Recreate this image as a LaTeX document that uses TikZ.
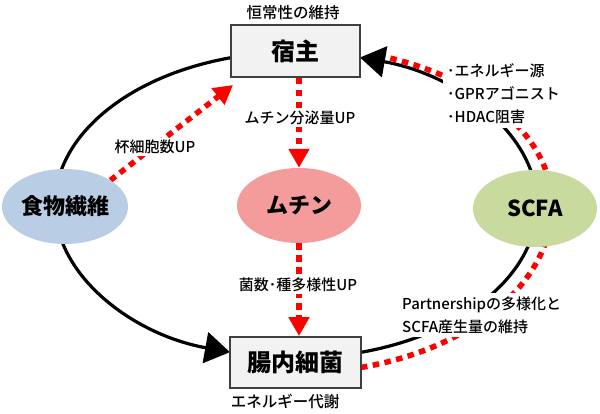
\documentclass[tikz,border=0pt]{standalone}
\usepackage{fontspec}
\setmainfont{Noto Sans CJK JP}
\newfontfamily\jpmed{Noto Sans CJK JP}[UprightFont={* Medium}]
\usetikzlibrary{arrows.meta,shapes.geometric,calc}
\definecolor{fibercol}{HTML}{B9CDE5}
\definecolor{mucincol}{HTML}{F49C9C}
\definecolor{scfacol}{HTML}{C9DA9E}
\definecolor{boxfill}{HTML}{F2F2F2}
\definecolor{boxline}{HTML}{3F3F3F}
\definecolor{dotred}{HTML}{FF0000}
\pgfdeclarelayer{back}
\pgfdeclarelayer{lines}
\pgfsetlayers{back,lines,main}
\begin{document}
\begin{tikzpicture}[x=1pt,y=1pt,
 hostbox/.style={draw=boxline, line width=1.8pt, fill=boxfill, minimum width=129pt, minimum height=52pt, font=\fontsize{24}{24}\selectfont\bfseries, inner sep=0pt},
 blob/.style={ellipse, draw=none, inner sep=0pt, font=\fontsize{22}{22}\selectfont\bfseries},
 cyclearc/.style={line width=3.2pt, black, -{Triangle[length=25pt,width=31pt]}},
 reddots/.style={line width=5.5pt, dotred, dash pattern=on 6.5pt off 5.5pt},
 redarrow/.style={reddots, -{Triangle[length=19pt,width=20pt]}},
 lbl/.style={fill=white, inner sep=2pt, font=\jpmed\fontsize{15}{23}\selectfont},
 plainlbl/.style={inner sep=1pt, font=\jpmed\fontsize{15.5}{15.5}\selectfont},
]
\begin{pgfonlayer}{back}
\fill[white] (0,0) rectangle (600,413);
\end{pgfonlayer}
\useasboundingbox (0,0) rectangle (600,413);

\node[hostbox] (host) at (295.5,362) {宿主};
\node[hostbox, minimum width=131pt, minimum height=51pt] (bac) at (295.5,50.5) {腸内細菌};
\node[blob, fill=fibercol, minimum width=126pt, minimum height=75pt] (fiber) at (65,206.5) {食物繊維};
\node[blob, fill=mucincol, minimum width=124pt, minimum height=75pt] (mucin) at (299,207.5) {ムチン};
\node[blob, fill=scfacol, minimum width=124pt, minimum height=77pt] (scfa) at (535,204.5) {SCFA};

\coordinate (C) at (296,208);
\coordinate (hostL) at ($(C)+(100:241pt and 153pt)$);
\coordinate (bacR) at ($(C)+(-76:241pt and 153pt)$);
\coordinate (scfaTop) at ($(C)+(0:256pt and 158pt)$);
\coordinate (scfaBot) at ($(C)+(-75.3:256pt and 168pt)$);
\coordinate (tipL) at (233,328);

\begin{pgfonlayer}{lines}
\draw[cyclearc] (hostL) arc[start angle=100, end angle=254.1, x radius=241pt, y radius=153pt];
\draw[cyclearc] (bacR) arc[start angle=-76, end angle=74.6, x radius=241pt, y radius=153pt];
\draw[reddots] (scfaTop) arc[start angle=0, end angle=69, x radius=256pt, y radius=158pt];
\draw[reddots] (scfaBot) arc[start angle=-75.3, end angle=0, x radius=256pt, y radius=168pt];
\draw[redarrow] (fiber.30) -- (tipL);
\draw[redarrow] (mucin.north |- host.south) -- (mucin.north);
\draw[redarrow] (mucin.south) -- (mucin.south |- bac.north);
\end{pgfonlayer}

\node[lbl] (lgob) at (155,266) {杯細胞数UP};
\node[lbl] (lmuc) at (300,295) {ムチン分泌量UP};
\node[lbl] (lbac) at (298,128) {菌数･種多様性UP};
\node[plainlbl] (ltop) at (293,400) {恒常性の維持};
\node[plainlbl] (lbot) at (285,11) {エネルギー代謝};
\node[lbl, inner sep=4pt, align=left, anchor=west] (lscfa) at (443,319) {･エネルギー源\\･GPRアゴニスト\\･HDAC阻害};
\node[lbl, inner sep=4pt, align=left, anchor=west] (lpart) at (398,98) {Partnershipの多様化と\\SCFA産生量の維持};
\end{tikzpicture}
\end{document}
